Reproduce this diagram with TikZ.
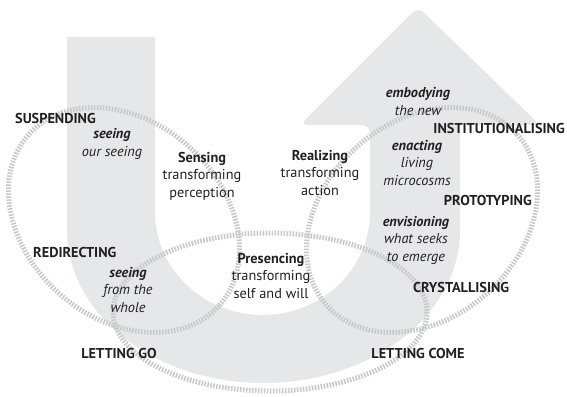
\documentclass[tikz,border=0pt]{standalone}
\usepackage{fontspec}
\setmainfont{PT Sans}
\usetikzlibrary{positioning}
\definecolor{ugray}{RGB}{230,231,232}
\definecolor{ringgray}{RGB}{200,201,203}
\definecolor{ink}{RGB}{35,31,32}
\tikzstyle{every node} = [text=ink, font=\fontsize{14.3}{17.5}\selectfont, align=center, inner sep=0pt]
\tikzstyle{stage} = [font=\fontsize{14.3}{17.5}\selectfont\bfseries]
\tikzstyle{mode} = [font=\fontsize{14.3}{17.5}\selectfont\itshape]
\tikzstyle{ring} = [draw=ringgray, line width=5pt, dash pattern=on 1.6pt off 1.4pt]

\begin{document}
\begin{tikzpicture}[x=1pt,y=-1pt]
\useasboundingbox (0,0) rectangle (567,396);
% the U with its arrow head
\fill[ugray] (67,37) -- (67,230) arc[start angle=180, end angle=0, x radius=196.5, y radius=153]
  -- (460,125) [rounded corners=8pt] -- (540,125) -- (418,7) -- (300,125) -- (370,125) [sharp corners]
  -- (370,212) arc[start angle=0, end angle=180, x radius=107.5, y radius=103] -- (155,37) -- cycle;

% rings
\draw[ring, rotate around={-42:(124,220)}] (124,220) ellipse [x radius=128, y radius=98];
\draw[ring, rotate around={42:(422,220)}] (422,220) ellipse [x radius=128, y radius=98];
\draw[ring] (270,312) ellipse [x radius=157, y radius=79];

% left side (base = last line)
\node[stage, anchor=base west] (suspending) at (15,123) {SUSPENDING};
\node[mode, anchor=base] (seeingown) at (112,156) {\textbf{seeing}\\our seeing};
\node[stage, anchor=base west] (redirecting) at (33,257) {REDIRECTING};
\node[mode, anchor=base] (seeingwhole) at (128,312) {\textbf{seeing}\\from the\\whole};
\node[stage, anchor=base] (lettinggo) at (119,358) {LETTING GO};

% middle
\node[anchor=base] (sensing) at (202,197) {\textbf{Sensing}\\transforming\\perception};
\node[anchor=base] (realizing) at (320,195) {\textbf{Realizing}\\transforming\\action};
\node[anchor=base] (presencing) at (271,298) {\textbf{Presencing}\\transforming\\self and will};

% right side
\node[mode, anchor=base] (embodying) at (418,115) {\textbf{embodying}\\the new};
\node[stage, anchor=base east] (institutionalising) at (565,133) {INSTITUTIONALISING};
\node[mode, anchor=base] (enacting) at (417,185) {\textbf{enacting}\\living\\microcosms};
\node[stage, anchor=base east] (prototyping) at (532,205) {PROTOTYPING};
\node[mode, anchor=base] (envisioning) at (416,261) {\textbf{envisioning}\\what seeks\\to emerge};
\node[stage, anchor=base west] (crystallising) at (413,292) {CRYSTALLISING};
\node[stage, anchor=base] (lettingcome) at (418,358) {LETTING COME};
\end{tikzpicture}
\end{document}
